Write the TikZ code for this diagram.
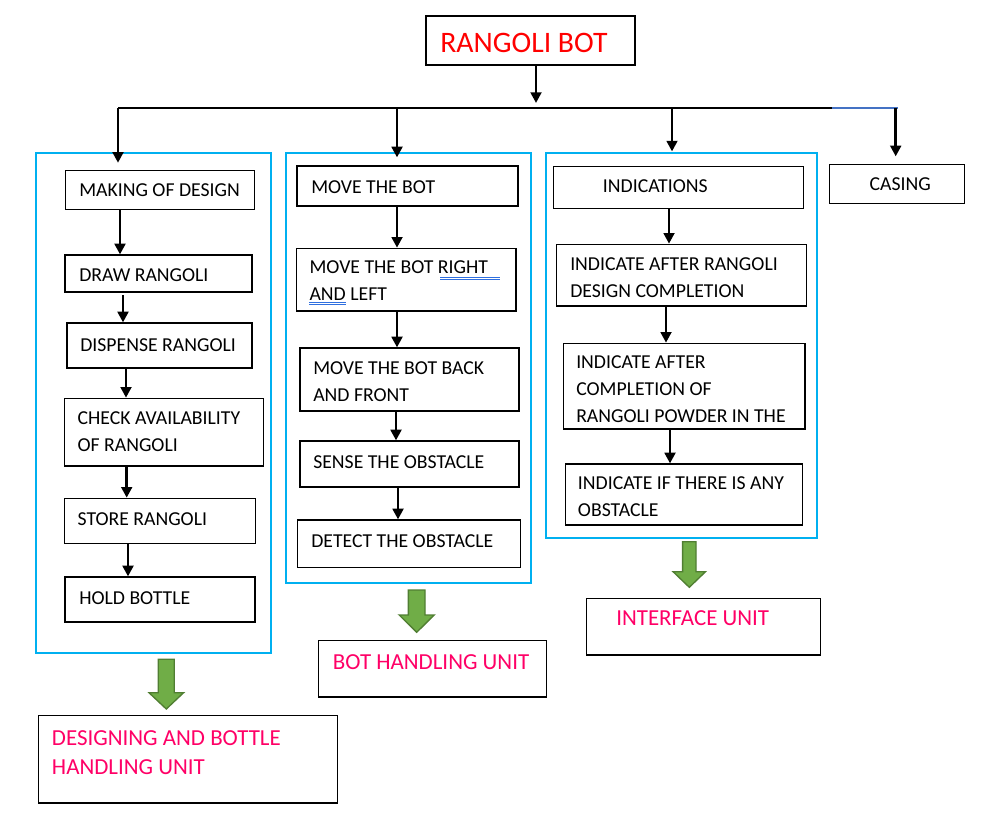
\documentclass[tikz,border=0pt]{standalone}
\usepackage{fontspec}
\setmainfont{Carlito}
\usetikzlibrary{arrows.meta,fit}
\definecolor{grpblue}{HTML}{00B0F0}
\definecolor{unitpink}{HTML}{FF0066}
\definecolor{arrowgreen}{HTML}{70AD47}
\definecolor{arrowedge}{HTML}{507E32}
\definecolor{busblue}{HTML}{4472C4}
\definecolor{ulblue}{HTML}{2F6FDF}
\newcommand\mylines[1]{\begin{tabular}[t]{@{}l@{}}#1\end{tabular}}
\newcommand\greenarrow[6]{\draw[garrow] (#1-#5,#2) -- (#1+#5,#2) -- (#1+#5,#3) -- (#1+#6,#3) -- (#1,#4) -- (#1-#6,#3) -- (#1-#5,#3) -- cycle;}
\begin{document}
\begin{tikzpicture}[x=0.75pt,y=-0.75pt,
  box/.style={draw=black, line width=0.9pt, inner sep=0pt},
  grp/.style={draw=grpblue, line width=1.5pt, inner sep=0pt},
  txt/.style={inner sep=0pt, anchor=base west, font=\fontsize{14.8pt}{20.25pt}\selectfont, text=black},
  unittxt/.style={inner sep=0pt, anchor=base west, font=\fontsize{17.2pt}{22pt}\selectfont, text=unitpink},
  arr/.style={line width=2pt, -{Triangle[width=8pt,length=8pt]}},
  garrow/.style={fill=arrowgreen, draw=arrowedge, line width=1pt}
]
\useasboundingbox (0,0) rectangle (984,820);

% title
\node[box, fit={(426,16) (635,65)}] (top) {};
\node[inner sep=0pt, anchor=base west, font=\fontsize{22.3pt}{26pt}\selectfont, text=red] (toptxt) at (440,53) {RANGOLI BOT};

% bus line
\coordinate (busL) at (118,108);
\coordinate (busM) at (832,108);
\coordinate (busR) at (898,108);
\draw[line width=1pt] (busL) -- (busM);
\draw[line width=1pt, busblue] (busM) -- (busR);

% groups
\node[grp, fit={(36,152.7) (271,653)}] (g1) {};
\node[grp, fit={(286,153) (531,583)}] (g2) {};
\node[grp, fit={(545.5,153) (817,537.5)}] (g3) {};

% group 1 boxes
\node[box, fit={(65.3,170.7) (254.7,209.3)}] (a1) {};
\node[txt] (a1t) at (79,196.7) {MAKING OF DESIGN};
\node[box, fit={(65,255) (252,292)}] (a2) {};
\node[txt] (a2t) at (79,281) {DRAW RANGOLI};
\node[box, fit={(67,323) (252,368)}] (a3) {};
\node[txt] (a3t) at (80,351) {DISPENSE RANGOLI};
\node[box, fit={(64.3,398.3) (263.3,466)}] (a4) {};
\node[txt] (a4t) at (77.3,424) {\mylines{CHECK AVAILABILITY\\OF RANGOLI}};
\node[box, fit={(64.3,498.3) (255.3,543.3)}] (a5) {};
\node[txt] (a5t) at (77.3,525) {STORE RANGOLI};
\node[box, fit={(65,577) (255,622)}] (a6) {};
\node[txt] (a6t) at (79,604) {HOLD BOTTLE};

% group 2 boxes
\node[box, fit={(297,166) (518,206)}] (b1) {};
\node[txt] (b1t) at (311,193) {MOVE THE BOT};
\node[box, fit={(296.7,248.3) (516,311)}] (b2) {};
\node[txt] (b2t) at (309.3,273.3) {\mylines{MOVE THE BOT RIGHT\\AND LEFT}};
\node[box, fit={(300,348) (519,411)}] (b3) {};
\node[txt] (b3t) at (313,374) {\mylines{MOVE THE BOT BACK\\AND FRONT}};
\node[box, fit={(300,441) (519,487)}] (b4) {};
\node[txt] (b4t) at (313,468) {SENSE THE OBSTACLE};
\node[box, fit={(297.3,520) (520.7,567.3)}] (b5) {};
\node[txt] (b5t) at (311,547) {DETECT THE OBSTACLE};

% spelling underlines
\draw[ulblue, line width=0.6pt] (440,277) -- (500,277) (440,279.3) -- (500,279.3);
\draw[ulblue, line width=0.6pt] (309.3,302) -- (345.7,302) (309.3,304.3) -- (345.7,304.3);

% group 3 boxes
\node[box, fit={(553.3,166.7) (803.3,208.3)}] (c1) {};
\node[txt] (c1t) at (602.7,192.7) {INDICATIONS};
\node[box, fit={(556.7,244.3) (806.7,306)}] (c2) {};
\node[txt] (c2t) at (570,270) {\mylines{INDICATE AFTER RANGOLI\\DESIGN COMPLETION}};
\node[box, fit={(563.3,343.3) (805,429)}] (c3) {};
\node[txt] (c3t) at (576,368) {\mylines{INDICATE AFTER\\COMPLETION OF\\RANGOLI POWDER IN THE}};
\node[box, fit={(565.7,464) (802.7,525)}] (c4) {};
\node[txt] (c4t) at (577.7,489) {\mylines{INDICATE IF THERE IS ANY\\OBSTACLE}};

% casing
\node[box, fit={(829.3,164.3) (964.3,203.3)}] (d1) {};
\node[txt] (d1t) at (869.3,190.7) {CASING};

% unit boxes
\node[box, fit={(38.3,715.3) (337.3,803)}] (u1) {};
\node[unittxt] (u1t) at (51.7,745) {\mylines{DESIGNING AND BOTTLE\\HANDLING UNIT}};
\node[box, fit={(318.3,640.7) (546.7,697)}] (u2) {};
\node[unittxt] (u2t) at (332.7,669) {BOT HANDLING UNIT};
\node[box, fit={(586.7,598.7) (820.7,655)}] (u3) {};
\node[unittxt] (u3t) at (616,625.7) {INTERFACE UNIT};

% connectors
\draw[arr, shorten >=3.75pt] (top.south -| 536,0) -- (busL -| 536,0);
\draw[arr, shorten >=5.5pt] (busL) -- (a1.north -| busL);
\draw[arr, shorten >=6pt] (busL -| 397,0) -- (b1.north -| 397,0);
\draw[arr, shorten >=11pt] (busL -| 672,0) -- (c1.north -| 672,0);
\draw[arr, shorten >=5.5pt] (busL -| 895.7,0) -- (d1.north -| 895.7,0);

\draw[arr] (a1.south -| 120,0) -- (a2.north -| 120,0);
\draw[arr, shorten <=2pt] (a2.south -| 123,0) -- (a3.north -| 123,0);
\draw[arr] (a3.south -| 126,0) -- (a4.north -| 126,0);
\draw[arr] (a4.south -| 126.7,0) -- (a5.north -| 126.7,0);
\draw[arr] (a5.south -| 128,0) -- (a6.north -| 128,0);

\draw[arr] (b1.south -| 397,0) -- (b2.north -| 397,0);
\draw[arr] (b2.south -| 397,0) -- (b3.north -| 397,0);
\draw[arr] (b3.south -| 396,0) -- (b4.north -| 396,0);
\draw[arr] (b4.south -| 398,0) -- (b5.north -| 398,0);

\draw[arr] (c1.south -| 669,0) -- (c2.north -| 669,0);
\draw[arr] (c2.south -| 666,0) -- (c3.north -| 666,0);
\draw[arr] (c3.south -| 670,0) -- (c4.north -| 670,0);

% green block arrows
\greenarrow{166.3}{659.3}{692.7}{709}{8}{17.3}
\greenarrow{416.7}{590}{615}{632.3}{8.3}{17.5}
\greenarrow{689.3}{541.7}{571.7}{587.3}{6.7}{16.2}
\end{tikzpicture}
\end{document}
